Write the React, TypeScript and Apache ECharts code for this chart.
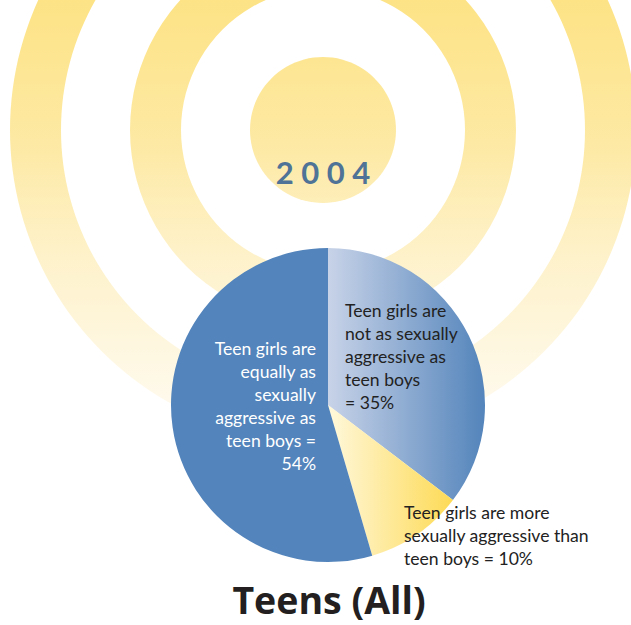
import React, { useEffect, useRef } from "react";
import * as echarts from "echarts";

const categories = [
  "Teen girls are\nnot as sexually\naggressive as\nteen boys\n= 35%",
  "Teen girls are more\nsexually aggressive than\nteen boys = 10%",
  "Teen girls are\nequally as\nsexually\naggressive as\nteen boys =\n54%",
];
const values = [35, 10, 54];
const yearLabel = "2 0 0 4";
const chartTitle = "Teens (All)";

export default function App() {
  const ref = useRef<HTMLDivElement>(null);
  useEffect(() => {
    if (!ref.current) return;
    const chart = echarts.init(ref.current, null, { renderer: "svg" });
    const ringFill = () =>
      new echarts.graphic.LinearGradient(
        0,
        0,
        0,
        470,
        [
          { offset: 0, color: "#fde386" },
          { offset: 0.3, color: "#fde9a3" },
          { offset: 0.55, color: "#fef2cb" },
          { offset: 0.8, color: "#fef8e6" },
          { offset: 1, color: "#fffdf8" },
        ],
        true
      );
    const cx = 323;
    const cy = 130;
    const fills = [
      {
        type: "linear",
        x: 0,
        y: 0,
        x2: 1,
        y2: 0,
        colorStops: [
          { offset: 0, color: "#c8d3e8" },
          { offset: 1, color: "#5384bb" },
        ],
      },
      {
        type: "linear",
        x: 0,
        y: 0,
        x2: 1,
        y2: 0,
        colorStops: [
          { offset: 0, color: "#fff8dc" },
          { offset: 1, color: "#fdda55" },
        ],
      },
      "#5384bb",
    ];
    const labelPos = [
      { x: 345, y: 299, align: "left", color: "#222222" },
      { x: 404, y: 501, align: "left", color: "#222222" },
      { x: 316, y: 337, align: "right", color: "#ffffff" },
    ];
    chart.setOption({
      animation: false,
      graphic: [
        { type: "ring", z: 0, shape: { cx, cy, r: 313, r0: 262 }, style: { fill: ringFill() } },
        { type: "ring", z: 0, shape: { cx, cy, r: 193, r0: 142 }, style: { fill: ringFill() } },
        { type: "circle", z: 0, shape: { cx, cy, r: 73 }, style: { fill: ringFill() } },
        {
          type: "text",
          z: 1,
          x: 323,
          y: 172,
          style: {
            text: yearLabel,
            fill: "#4e7396",
            font: "bold 31px Lato",
            textAlign: "center",
            textVerticalAlign: "middle",
          },
        },
        {
          type: "text",
          z: 1,
          x: 329,
          y: 599,
          style: {
            text: chartTitle,
            fill: "#231f20",
            font: "bold 37.5px 'Open Sans'",
            textAlign: "center",
            textVerticalAlign: "middle",
          },
        },
      ],
      series: [
        {
          type: "pie",
          center: [328, 405],
          radius: 157,
          startAngle: 90,
          clockwise: true,
          silent: true,
          data: values.map((v, i) => ({
            value: v,
            name: categories[i],
            itemStyle: { color: fills[i] },
            label: { color: labelPos[i].color, align: labelPos[i].align },
          })),
          label: {
            show: true,
            position: "inside",
            formatter: (p: any) => p.name,
            fontFamily: "Lato",
            fontSize: 17.6,
            lineHeight: 23,
          },
          labelLine: { show: false },
          labelLayout: (p: any) => {
            const l = labelPos[p.dataIndex];
            return { x: l.x, y: l.y, align: l.align, verticalAlign: "top" };
          },
        },
      ],
    });
    return () => chart.dispose();
  }, []);
  return (
    <div
      ref={ref}
      style={{ position: "fixed", left: 0, top: 0, width: 631, height: 625, background: "#ffffff" }}
    />
  );
}
